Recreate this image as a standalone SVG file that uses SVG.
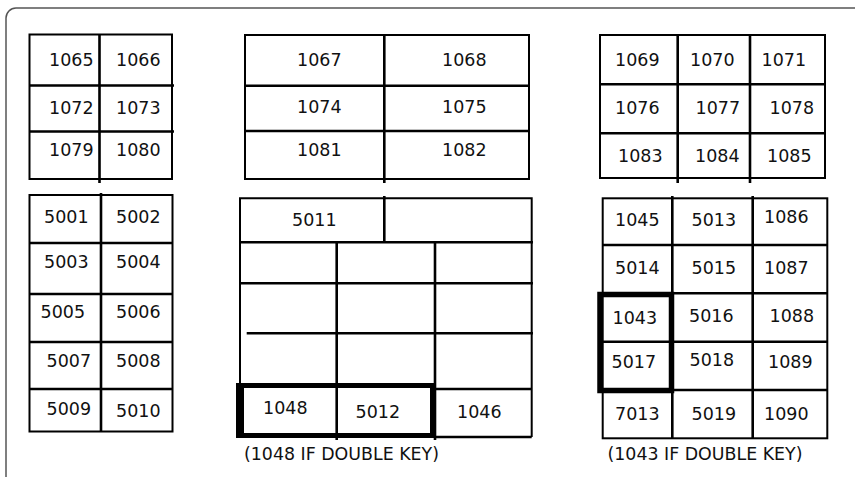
<svg xmlns="http://www.w3.org/2000/svg" width="855" height="477" viewBox="0 0 855 477">
<style>
.t{font-family:"DejaVu Sans","Liberation Sans",sans-serif;font-size:17.5px;fill:#111}
.c{font-family:"DejaVu Sans","Liberation Sans",sans-serif;font-size:17.4px;fill:#111}
.b{fill:none;stroke:#000;stroke-width:2}
.l{stroke:#000;stroke-width:2.6;fill:none}
.k{fill:none;stroke:#000;stroke-width:5}
</style>
<rect width="855" height="477" fill="#fff"/>
<rect x="6" y="8" width="900" height="520" rx="10" fill="none" stroke="#555" stroke-width="1.5"/>

<g id="grid-top-left">
<rect class="b" x="29.5" y="34.5" width="142.5" height="144.5"/>
<path class="l" d="M99.5,34V183M29,85.5H174M29,131.5H174"/>
<text class="t" x="49" y="66">1065</text><text class="t" x="116" y="66">1066</text>
<text class="t" x="49" y="114">1072</text><text class="t" x="116" y="114">1073</text>
<text class="t" x="49" y="156">1079</text><text class="t" x="116" y="156">1080</text>
</g>

<g id="grid-bottom-left">
<rect class="b" x="29.5" y="195" width="143" height="236.5"/>
<path class="l" d="M101,193V432M29,243H173M29,294H173M29,342H173M29,389H173"/>
<text class="t" x="44" y="223">5001</text><text class="t" x="116" y="223">5002</text>
<text class="t" x="44" y="268">5003</text><text class="t" x="116" y="268">5004</text>
<text class="t" x="40.5" y="318">5005</text><text class="t" x="116" y="318">5006</text>
<text class="t" x="46.5" y="367">5007</text><text class="t" x="116" y="367">5008</text>
<text class="t" x="46.5" y="415">5009</text><text class="t" x="116" y="417">5010</text>
</g>

<g id="grid-top-middle">
<rect class="b" x="245" y="35" width="284" height="144"/>
<path class="l" d="M384.3,35V183M245,85.7H529M245,131H529"/>
<text class="t" x="297" y="66">1067</text><text class="t" x="442" y="66">1068</text>
<text class="t" x="297" y="113">1074</text><text class="t" x="442" y="113">1075</text>
<text class="t" x="297" y="156">1081</text><text class="t" x="442" y="156">1082</text>
</g>

<g id="grid-bottom-middle">
<path class="b" d="M240,384V198.3H531.7V437"/>
<path class="l" d="M384.3,196V242M240,242.3H533M336.7,242V440M435,242V440M240,283.3H533M246.7,333.3H533M435,389H531.7M435,437H531.7"/>
<rect class="k" x="239" y="385.5" width="193.5" height="50"/>
<rect x="236" y="383" width="8" height="55" fill="#000"/>
<text class="t" x="292" y="226">5011</text>
<text class="t" x="263" y="414">1048</text>
<text class="t" x="355.5" y="418">5012</text>
<text class="t" x="457" y="418">1046</text>
<text class="c" x="244" y="460">(1048 IF DOUBLE KEY)</text>
</g>

<g id="grid-top-right">
<rect class="b" x="600" y="35" width="225" height="143"/>
<path class="l" d="M677.7,35V183M750,35V183M600,84.3H825M600,133.3H825"/>
<text class="t" x="615" y="66">1069</text><text class="t" x="690" y="66">1070</text><text class="t" x="761.5" y="66">1071</text>
<text class="t" x="615" y="114">1076</text><text class="t" x="695.5" y="114">1077</text><text class="t" x="769.5" y="114">1078</text>
<text class="t" x="618" y="162">1083</text><text class="t" x="695" y="162">1084</text><text class="t" x="767" y="162">1085</text>
</g>

<g id="grid-bottom-right">
<rect class="b" x="602.7" y="198.3" width="224.6" height="240"/>
<path class="l" d="M672.3,196V438M752.7,196V438M602.7,245H827.3M602.7,293.3H827.3M602.7,341.7H827.3M602.7,390H827.3"/>
<rect x="600" y="294.5" width="71.5" height="96" fill="none" stroke="#000" stroke-width="5.5"/>
<text class="t" x="615" y="226">1045</text><text class="t" x="691.5" y="226">5013</text><text class="t" x="764" y="223">1086</text>
<text class="t" x="615" y="274">5014</text><text class="t" x="691.5" y="274">5015</text><text class="t" x="764" y="274">1087</text>
<text class="t" x="612.5" y="324">1043</text><text class="t" x="689" y="322">5016</text><text class="t" x="769.5" y="322">1088</text>
<text class="t" x="611.5" y="368">5017</text><text class="t" x="689.5" y="366">5018</text><text class="t" x="768" y="368">1089</text>
<text class="t" x="615" y="420">7013</text><text class="t" x="691.5" y="420">5019</text><text class="t" x="764" y="420">1090</text>
<text class="c" x="607.5" y="460">(1043 IF DOUBLE KEY)</text>
</g>
</svg>
